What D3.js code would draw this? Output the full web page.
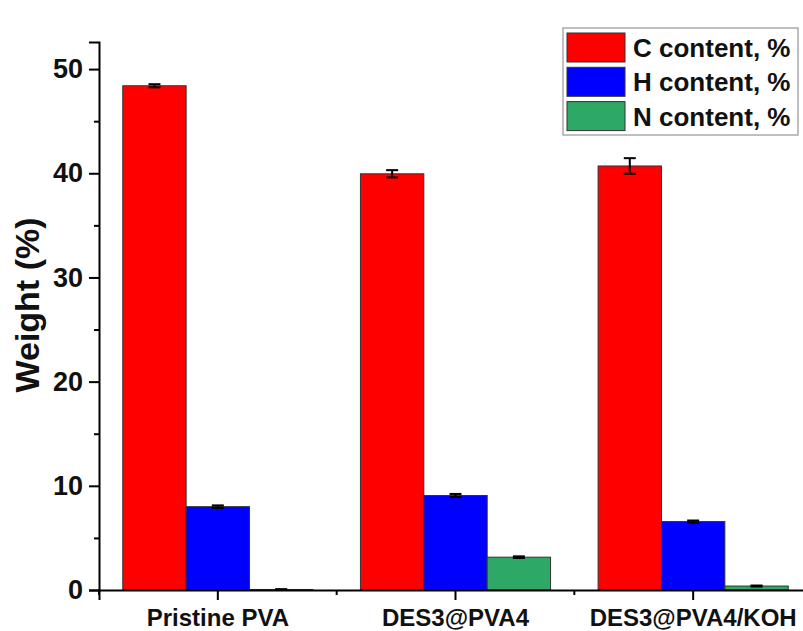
<!DOCTYPE html>
<html>
<head>
<meta charset="utf-8">
<script src="https://cdn.jsdelivr.net/npm/d3@7"></script>
<style>
  body { margin: 0; background: #fff; }
  text { font-family: "Liberation Sans", Arial, sans-serif; font-weight: bold; }
</style>
</head>
<body>
<script>
// Chart data
var categories = ["Pristine PVA", "DES3@PVA4", "DES3@PVA4/KOH"];
var seriesNames = ["C content, %", "H content, %", "N content, %"];
var cValues = [48.4, 39.95, 40.7];
var cErrors = [0.15, 0.35, 0.75];
var hValues = [8.0, 9.07, 6.57];
var hErrors = [0.12, 0.15, 0.1];
var nValues = [0.05, 3.15, 0.38];
var nErrors = [0.03, 0.08, 0.05];
var yTicks = [0, 10, 20, 30, 40, 50];
var yMinorTicks = [5, 15, 25, 35, 45];

var colors = ["#ff0000", "#0000ff", "#2ea866"];

var svgWidth = 803;
var svgHeight = 631;

var margin = { top: 42, right: 0, bottom: 41, left: 99 };
var chartHeight = svgHeight - margin.top - margin.bottom;

var svg = d3.select("body")
  .append("svg")
  .attr("width", svgWidth)
  .attr("height", svgHeight);

var chartGroup = svg.append("g")
  .attr("transform", `translate(${margin.left}, ${margin.top})`);

// group scale runs past the right edge, as in the original crop
var xBandScale = d3.scaleBand()
  .domain(categories)
  .range([0, 713])
  .padding(0);

var xSubScale = d3.scaleBand()
  .domain(seriesNames)
  .range([xBandScale.bandwidth() * 0.1, xBandScale.bandwidth() * 0.9])
  .padding(0);

var yLinearScale = d3.scaleLinear()
  .domain([0, 52.6])
  .range([chartHeight, 0]);

// build rows for the bars
var allValues = [cValues, hValues, nValues];
var allErrors = [cErrors, hErrors, nErrors];
var barData = [];
categories.forEach(function(cat, i) {
  seriesNames.forEach(function(s, j) {
    barData.push({ cat: cat, series: s, idx: j, value: allValues[j][i], err: allErrors[j][i] });
  });
});

// bars
chartGroup.selectAll(".bar")
  .data(barData)
  .enter()
  .append("rect")
  .attr("class", "bar")
  .attr("x", d => xBandScale(d.cat) + xSubScale(d.series))
  .attr("y", d => yLinearScale(d.value))
  .attr("width", xSubScale.bandwidth())
  .attr("height", d => chartHeight - yLinearScale(d.value))
  .attr("fill", d => colors[d.idx])
  .attr("stroke", "#333")
  .attr("stroke-width", 1);

// error bars
var errGroup = chartGroup.selectAll(".err")
  .data(barData)
  .enter()
  .append("g")
  .attr("class", "err")
  .attr("transform", d => `translate(${xBandScale(d.cat) + xSubScale(d.series) + xSubScale.bandwidth() / 2}, 0)`);

errGroup.append("line")
  .attr("x1", 0).attr("x2", 0)
  .attr("y1", d => yLinearScale(d.value + d.err))
  .attr("y2", d => yLinearScale(d.value - d.err))
  .attr("stroke", "#000")
  .attr("stroke-width", 2);

errGroup.append("line")
  .attr("x1", -6).attr("x2", 6)
  .attr("y1", d => yLinearScale(d.value + d.err))
  .attr("y2", d => yLinearScale(d.value + d.err))
  .attr("stroke", "#000")
  .attr("stroke-width", 2);

errGroup.append("line")
  .attr("x1", -6).attr("x2", 6)
  .attr("y1", d => yLinearScale(d.value - d.err))
  .attr("y2", d => yLinearScale(d.value - d.err))
  .attr("stroke", "#000")
  .attr("stroke-width", 2);

// y axis with minor ticks
var leftAxis = d3.axisLeft(yLinearScale)
  .tickValues(yTicks)
  .tickSize(10)
  .tickPadding(6)
  .tickFormat(d3.format("d"));

var yAxisGroup = chartGroup.append("g")
  .classed("axis", true)
  .call(leftAxis);

chartGroup.append("g")
  .call(d3.axisLeft(yLinearScale).tickValues(yMinorTicks).tickSize(5).tickFormat(""))
  .call(g => g.select(".domain").remove());

// x axis: major ticks at group centres, minor at boundaries
var bottomAxis = d3.axisBottom(xBandScale)
  .tickSize(10)
  .tickPadding(9);

var xAxisGroup = chartGroup.append("g")
  .classed("axis", true)
  .attr("transform", "translate(0, " + chartHeight + ")")
  .call(bottomAxis);

var boundaries = [0].concat(categories.map(c => xBandScale(c) + xBandScale.bandwidth()));
chartGroup.append("g")
  .attr("transform", "translate(0, " + chartHeight + ")")
  .selectAll("line")
  .data(boundaries)
  .enter()
  .append("line")
  .attr("x1", d => d).attr("x2", d => d)
  .attr("y1", 0).attr("y2", 5)
  .attr("stroke", "#000")
  .attr("stroke-width", 2);

svg.selectAll(".axis path, .axis line, .tick line")
  .attr("stroke", "#000")
  .attr("stroke-width", 2);

yAxisGroup.selectAll("text")
  .attr("font-size", 27)
  .attr("fill", "#111");

xAxisGroup.selectAll("text")
  .attr("font-size", 24)
  .attr("fill", "#111");

// y axis title
svg.append("text")
  .attr("transform", "translate(39, 305) rotate(-90)")
  .attr("text-anchor", "middle")
  .attr("font-size", 34)
  .attr("fill", "#111")
  .text("Weight (%)");

// legend
var legend = svg.append("g")
  .attr("transform", "translate(563, 28)");

legend.append("rect")
  .attr("width", 235)
  .attr("height", 107)
  .attr("fill", "#fff")
  .attr("stroke", "#aaa")
  .attr("stroke-width", 1.5);

var legendRows = legend.selectAll(".lrow")
  .data(seriesNames)
  .enter()
  .append("g")
  .attr("class", "lrow")
  .attr("transform", (d, i) => `translate(4, ${5 + i * 34.3})`);

legendRows.append("rect")
  .attr("width", 58)
  .attr("height", 29)
  .attr("fill", (d, i) => colors[i])
  .attr("stroke", "#333")
  .attr("stroke-width", 1);

legendRows.append("text")
  .attr("x", 66)
  .attr("y", 24)
  .attr("font-size", 26)
  .attr("fill", "#111")
  .text(d => d);
</script>
</body>
</html>
